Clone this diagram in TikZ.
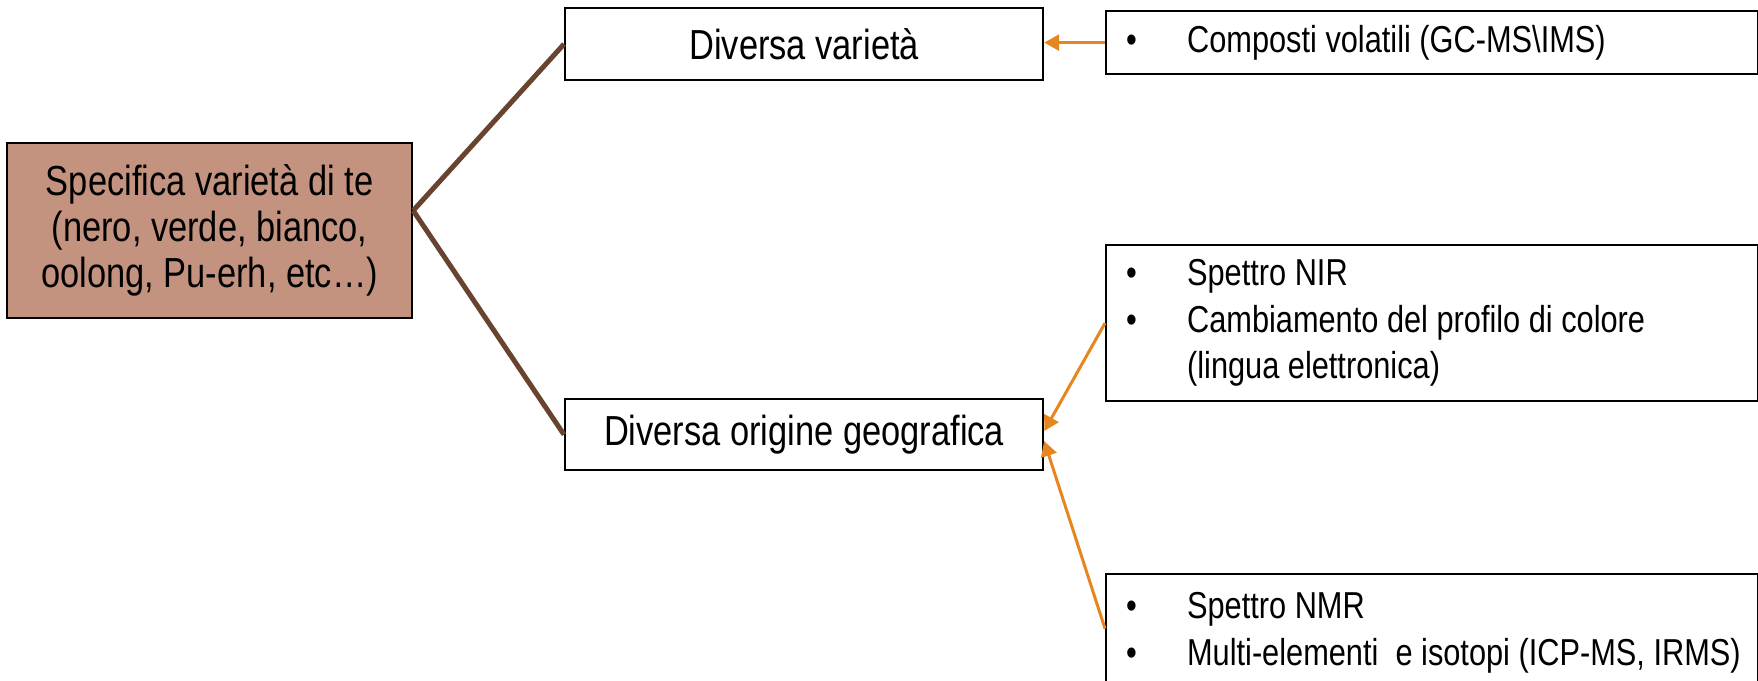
\documentclass[tikz,border=0pt]{standalone}
\usepackage{fontspec}
\setmainfont{Liberation Sans}[FakeStretch=0.82]
\usetikzlibrary{arrows.meta}

\definecolor{teafill}{RGB}{196,147,127}
\definecolor{linkbrown}{RGB}{104,68,48}
\definecolor{srcorange}{RGB}{230,134,30}

% bullet with a fixed hanging indent, and the matching indent for wrapped lines
\newcommand{\bitem}{\makebox[71pt][l]{\hspace{10pt}•}}
\newcommand{\bindent}{\hspace*{71pt}}

\begin{document}
\begin{tikzpicture}[
    x=1pt, y=-1pt,
    font=\fontsize{42}{46}\selectfont,
    box/.style={draw=black, line width=2.2pt, fill=white, inner sep=0pt, anchor=north west},
    centerbox/.style={box, align=center},
    listbox/.style={box, text width=632pt, inner xsep=10pt, align=flush left,
                    font=\fontsize{37.5}{46.5}\selectfont},
    branch/.style={draw=linkbrown, line width=5pt},
    source/.style={draw=srcorange, line width=3pt, -{Triangle[length=15pt,width=16pt]}}
  ]
  \useasboundingbox (0,0) rectangle (1758,680);

  % root: the tea variety
  \node[centerbox, fill=teafill, minimum width=405pt, minimum height=175pt] (tea) at (6,142)
    {Specifica varietà di te\\(nero, verde, bianco,\\oolong, Pu-erh, etc…)};

  % the two questions
  \node[centerbox, minimum width=478pt, minimum height=72pt] (var) at (564,7) {Diversa varietà};
  \node[centerbox, minimum width=478pt, minimum height=71pt] (geo) at (564,398) {Diversa origine geografica};

  % analytical techniques
  \node[listbox, minimum height=63pt] (comp) at (1105,10)
    {\bitem Composti volatili (GC-MS\textbackslash IMS)};
  \node[listbox, minimum height=156pt] (nir) at (1105,244)
    {\bitem Spettro NIR\\
     \bitem Cambiamento del profilo di colore\\
     \bindent (lingua elettronica)};
  \node[listbox, minimum height=117pt] (nmr) at (1105,573)
    {\bitem Spettro NMR\\
     \bitem \mbox{Multi-elementi\ \ e isotopi (ICP-MS, IRMS)}};

  % branches from the root
  \draw[branch] ([yshift=20pt]tea.east) -- (var.west);
  \draw[branch] ([yshift=20pt]tea.east) -- (geo.west);

  % techniques pointing to the question they answer
  \draw[source] (comp.west) -- (comp.west -| var.east);
  \draw[source] (nir.west) -- ([yshift=3.5pt]geo.east);
  \draw[source] ([yshift=4pt]nmr.west) -- ([yshift=-6.5pt]geo.east);
\end{tikzpicture}
\end{document}
